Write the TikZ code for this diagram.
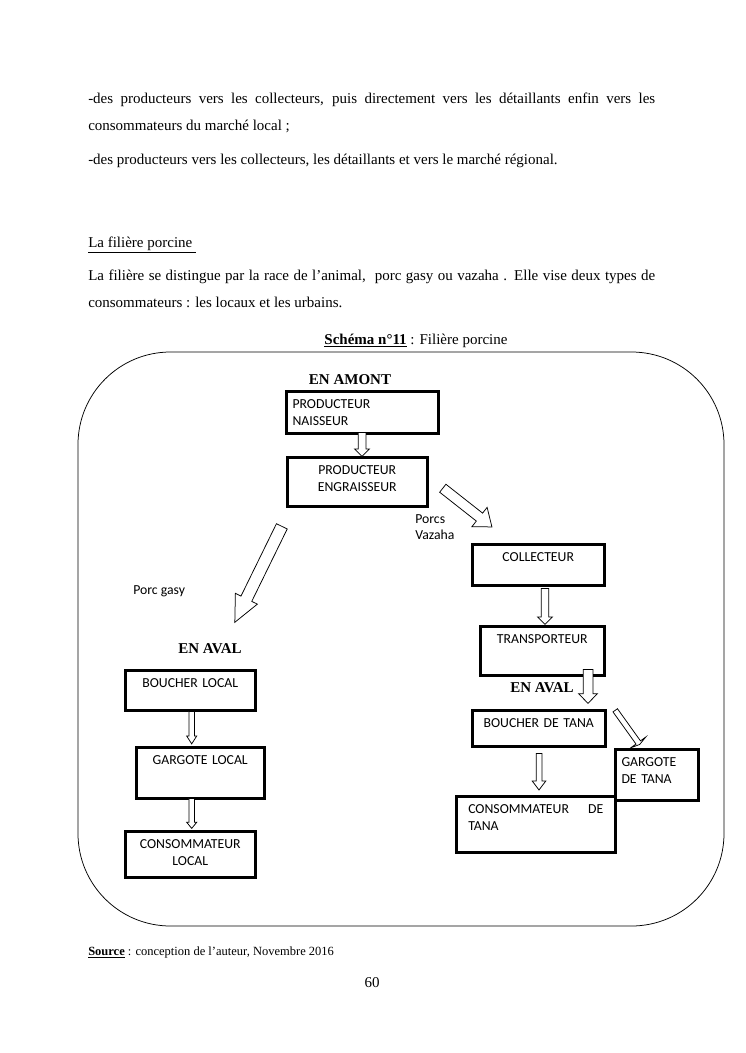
\documentclass[tikz,border=0pt]{standalone}
\usepackage{fontspec}
\setmainfont{Liberation Serif}
\newfontfamily\calibri{Carlito}
\usetikzlibrary{shapes.arrows}

\tikzset{
  boite/.style={draw, line width=2pt, anchor=north west, inner xsep=5pt, inner ysep=2pt, text height=12pt, align=center, font=\calibri\fontsize{11}{13.6}\selectfont},
  fleche/.style n args={5}{draw, fill=white, single arrow, anchor=tail, line width=0.6pt, rotate=#1, minimum height=#2, inner sep=#3, single arrow head extend=#4, single arrow tip angle=#5},
  texte/.style={anchor=base west, inner sep=0pt, text width=453.6pt, align=justify, font=\fontsize{12}{21.6}\selectfont},
  etiquette/.style={anchor=base west, inner sep=0pt, align=left, font=\calibri\fontsize{11}{12.8}\selectfont},
  niveau/.style={anchor=base, inner sep=0pt, font=\bfseries\fontsize{12}{14}\selectfont}
}

\begin{document}
\begin{tikzpicture}[x=0.8pt,y=-0.8pt]
\useasboundingbox (0,0) rectangle (745,1053);

\node[texte] (para1) at (88,103) {-des producteurs vers les collecteurs, puis directement vers les détaillants enfin vers les\linebreak consommateurs du marché local ;};
\node[texte] (para2) at (88,164) {-des producteurs vers les collecteurs, les détaillants et vers le marché régional.};
\node[texte] (titrepara) at (88,247) {\underline{La filière porcine\ }};
\node[texte] (para3) at (88,280) {La filière se distingue par la race de l’animal,\ \ porc gasy ou vazaha . Elle vise deux types de\linebreak consommateurs : les locaux et les urbains.};
\node[anchor=base, inner sep=0pt, font=\fontsize{12}{14}\selectfont] (schema) at (416,344) {\underline{\textbf{Schéma n°11}} : Filière porcine};

\draw[line width=0.6pt, rounded corners=74pt] (78,352) rectangle (724,926);

\node[niveau] (amont) at (350,384) {EN AMONT};
\node[boite, text width=111.6pt, align=left, text depth=17.6pt] (naisseur) at (285,390) {PRODUCTEUR\\NAISSEUR};
\node[boite, text width=102pt, text depth=23.2pt] (engraisseur) at (286,456) {PRODUCTEUR\\ENGRAISSEUR};

\node[etiquette] (vazaha) at (415,539) {Porcs\\Vazaha};
\node[etiquette] (gasy) at (133,594) {Porc gasy};

\node[boite, text width=95.6pt, text depth=16.8pt] (collecteur) at (471,543) {COLLECTEUR};
\node[boite, text width=89.2pt, text depth=23.2pt] (transporteur) at (479,625) {TRANSPORTEUR};
\node[niveau] (avaltana) at (542,692) {EN AVAL};
\node[boite, text width=96.4pt, text depth=12.8pt] (bouchertana) at (471,709) {BOUCHER DE TANA};
\node[boite, text width=56.4pt, align=left, text depth=24.8pt] (gargotetana) at (614,748) {GARGOTE\\DE TANA};
\node[boite, text width=108pt, inner xsep=9.6pt, align=left, text depth=28.8pt] (consotana) at (455,795) {CONSOMMATEUR\hfill DE\\TANA};

\node[niveau] (avallocal) at (210,653) {EN AVAL};
\node[boite, text width=94pt, text depth=16pt] (boucherlocal) at (124,669) {BOUCHER LOCAL};
\node[boite, text width=92.4pt, text depth=24.8pt] (gargotelocal) at (135,746) {GARGOTE LOCAL};
\node[boite, text width=94pt, text depth=20.8pt] (consolocal) at (124,830) {CONSOMMATEUR\\LOCAL};

\node[fleche={-90}{19.2pt}{2.8pt}{2.8pt}{90}] (f1) at (362,432) {};
\node[fleche={-116.1}{85.5pt}{4.5pt}{5pt}{50}] (f2) at (282,526) {};
\node[fleche={-38.2}{50pt}{3.75pt}{5.85pt}{76}] (f3) at (442.5,488) {};
\node[fleche={-90}{28.8pt}{2.7pt}{2.9pt}{90}] (f4) at (545,588) {};
\node[fleche={-90}{27.2pt}{3.6pt}{3.6pt}{88}] (f5) at (588,669) {};
\node[fleche={-54.4}{33.6pt}{1.9pt}{5.2pt}{150}] (f6) at (615,710) {};
\node[fleche={-90}{29.3pt}{2pt}{3.1pt}{74}] (f7) at (539,753) {};
\node[fleche={-90}{26pt}{1.9pt}{1.85pt}{65}] (f8) at (191.7,711) {};
\node[fleche={-90}{24pt}{1.9pt}{1.85pt}{79}] (f9) at (191.7,798) {};

\node[anchor=base west, inner sep=0pt, font=\fontsize{10}{12}\selectfont] (source) at (88,955) {\underline{\textbf{Source}} : conception de l’auteur, Novembre 2016};
\node[anchor=base, inner sep=0pt, font=\fontsize{12}{14}\selectfont] (page) at (372,987) {60};
\end{tikzpicture}
\end{document}
